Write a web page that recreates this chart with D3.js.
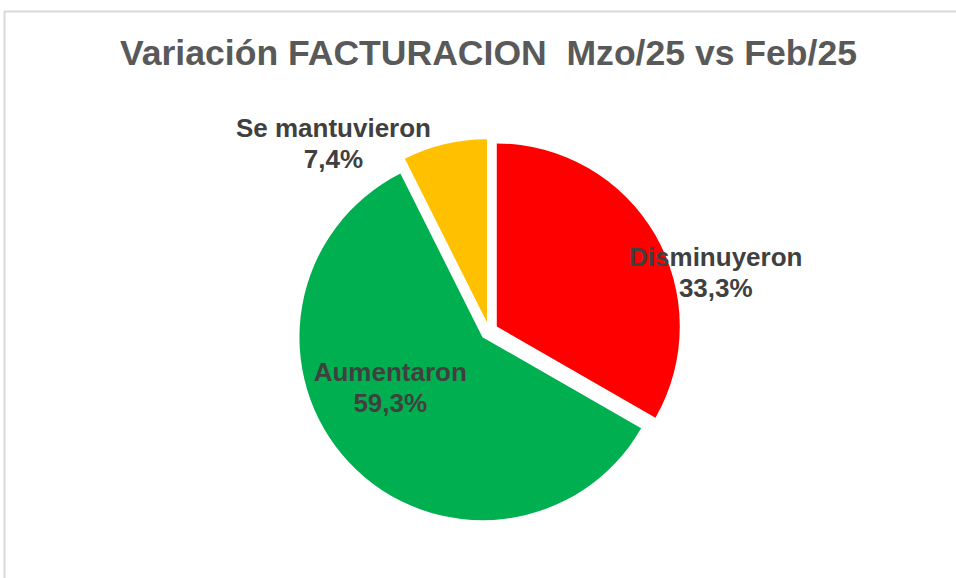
<!DOCTYPE html>
<html>
<head>
<meta charset="utf-8">
<script src="https://cdn.jsdelivr.net/npm/d3@7/dist/d3.min.js"></script>
<style>
  html, body { margin: 0; padding: 0; background: #ffffff; }
  svg { display: block; }
</style>
</head>
<body>
<svg id="chart" width="956" height="578"></svg>
<script>
// ---- data ----
const title = "Variación FACTURACION  Mzo/25 vs Feb/25";
const categories = ["Disminuyeron", "Aumentaron", "Se mantuvieron"];
const values = [33.3, 59.3, 7.4];
const valueLabels = ["33,3%", "59,3%", "7,4%"];
const colors = ["#FF0000", "#00B050", "#FFC000"];

// ---- layout ----
const W = 956, H = 578;
const cx = 489, cy = 331, R = 183, explode = 9;
// label anchor in polar coords around pie centre (angle deg clockwise from top, distance px)
const labelPolar = [
  { a: 75.7, d: 234 },
  { a: 240.0, d: 114 },
  { a: 320.2, d: 243 }
];

const svg = d3.select("#chart");

// border (extends past right/bottom edges)
svg.append("rect")
  .attr("x", 4.5).attr("y", 11.5)
  .attr("width", W + 20).attr("height", H + 20)
  .attr("fill", "#ffffff")
  .attr("stroke", "#d9d9d9")
  .attr("stroke-width", 2);

// title
svg.append("text")
  .attr("x", 488.5).attr("y", 65)
  .attr("text-anchor", "middle")
  .attr("font-family", "Liberation Sans, Arial, sans-serif")
  .attr("font-weight", "bold")
  .attr("font-size", 35)
  .attr("fill", "#595959")
  .attr("textLength", 737)
  .attr("lengthAdjust", "spacingAndGlyphs")
  .style("white-space", "pre")
  .text(title);

const pie = d3.pie().sort(null).value(d => d)(values);
const arc = d3.arc().innerRadius(0).outerRadius(R);

const g = svg.append("g").attr("transform", `translate(${cx},${cy})`);

g.selectAll("path.slice")
  .data(pie)
  .join("path")
  .attr("class", "slice")
  .attr("fill", (d, i) => colors[i])
  .attr("transform", d => {
    const m = (d.startAngle + d.endAngle) / 2;
    return `translate(${explode * Math.sin(m)},${-explode * Math.cos(m)})`;
  })
  .attr("d", arc);

// labels
const lineGap = 31;
const lbl = g.selectAll("g.lbl")
  .data(pie)
  .join("g")
  .attr("class", "lbl")
  .attr("transform", (d, i) => {
    const a = labelPolar[i].a * Math.PI / 180;
    return `translate(${labelPolar[i].d * Math.sin(a)},${-labelPolar[i].d * Math.cos(a)})`;
  });

lbl.append("text")
  .attr("text-anchor", "middle")
  .attr("font-family", "Liberation Sans, Arial, sans-serif")
  .attr("font-weight", "bold")
  .attr("font-size", 26)
  .attr("fill", "#404040")
  .attr("y", -lineGap / 2 + 8)
  .text((d, i) => categories[i]);

lbl.append("text")
  .attr("text-anchor", "middle")
  .attr("font-family", "Liberation Sans, Arial, sans-serif")
  .attr("font-weight", "bold")
  .attr("font-size", 26)
  .attr("fill", "#404040")
  .attr("y", lineGap / 2 + 8)
  .text((d, i) => valueLabels[i]);
</script>
</body>
</html>
